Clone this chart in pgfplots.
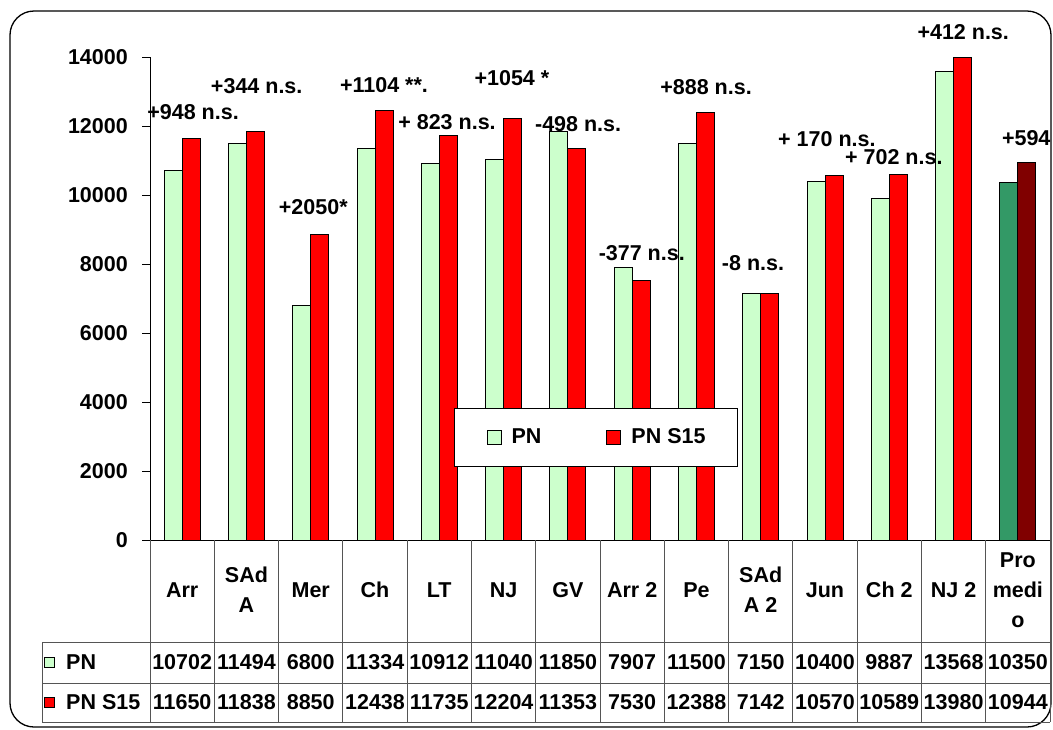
\documentclass[border=0pt]{standalone}
\usepackage{fontspec}
\setmainfont{Liberation Sans}
\usepackage{pgfplots}
\pgfplotsset{compat=1.18}
\definecolor{pngreen}{HTML}{CCFFCC}
\definecolor{pnred}{HTML}{FF0000}
\definecolor{dkgreen}{HTML}{339966}
\definecolor{dkred}{HTML}{800000}
\definecolor{tabline}{HTML}{555555}
\begin{document}
\fontsize{21.5}{30}\selectfont\bfseries
\begin{tikzpicture}[x=1pt,y=1pt]
\path[use as bounding box] (0,0) rectangle (1053,-729);
\draw[line width=1.3pt, rounded corners=24pt] (10,-11) rectangle (1051,-727);
\begin{axis}[
  at={(150pt,-540pt)}, anchor=south west,
  scale only axis, width=900pt, height=483pt,
  xmin=-0.5, xmax=13.5, ymin=0, ymax=14000,
  axis x line=bottom, axis y line=left,
  axis line style={-, line width=1pt, black},
  xtick=\empty,
  ytick={0,2000,4000,6000,8000,10000,12000,14000},
  scaled y ticks=false,
  tick align=outside, major tick length=8pt,
  ytick style={line width=1pt, black},
  yticklabel style={/pgf/number format/1000 sep={}, /pgf/number format/assume math mode=true, anchor=east, inner sep=0pt, xshift=-14pt},
  ybar, bar width=18pt,
  clip=false,
  legend style={at={(0.4956,0.2122)}, anchor=center, draw=black, line width=0.8pt,
    inner xsep=32pt, inner ysep=20pt, legend columns=2,
    nodes={inner sep=0pt},
    /tikz/every even column/.append style={column sep=65pt}},
]
\addplot[fill=pngreen, draw=black, line width=1pt, bar shift=-9pt,
  legend image code/.code={\draw[fill=pngreen,draw=black,line width=1pt] (0pt,-7pt) rectangle (14pt,7pt); \path (24pt,0pt);}]
  coordinates {(0,10702) (1,11494) (2,6800) (3,11334) (4,10912) (5,11040) (6,11850) (7,7907) (8,11500) (9,7150) (10,10400) (11,9887) (12,13568)};
\addplot[fill=pnred, draw=black, line width=1pt, bar shift=9pt,
  legend image code/.code={\draw[fill=pnred,draw=black,line width=1pt] (0pt,-7pt) rectangle (14pt,7pt); \path (24pt,0pt);}]
  coordinates {(0,11650) (1,11838) (2,8850) (3,12438) (4,11735) (5,12204) (6,11353) (7,7530) (8,12388) (9,7142) (10,10570) (11,10589) (12,13980)};
\addplot[fill=dkgreen, draw=black, line width=1pt, bar shift=-9pt, forget plot]
  coordinates {(13,10350)};
\addplot[fill=dkred, draw=black, line width=1pt, bar shift=9pt, forget plot]
  coordinates {(13,10944)};
\legend{PN, PN S15}
\node at (axis cs:0.17,12406) {+948 n.s.};
\node at (axis cs:1.16,13160) {+344 n.s.};
\node at (axis cs:2.04,9652) {+2050*};
\node at (axis cs:3.14,13189) {+1104 **.};
\node at (axis cs:4.12,12116) {+ 823 n.s.};
\node at (axis cs:5.13,13391) {+1054 *};
\node at (axis cs:6.16,12058) {-498 n.s.};
\node at (axis cs:7.15,8319) {-377 n.s.};
\node at (axis cs:8.15,13131) {+888 n.s.};
\node at (axis cs:8.88,8029) {-8 n.s.};
\node at (axis cs:10.03,11623) {+ 170 n.s.};
\node at (axis cs:11.07,11102) {+ 702 n.s.};
\node at (axis cs:12.15,14725) {+412 n.s.};
\node at (axis cs:13.13,11652) {+594};
\end{axis}
% data table
\begin{scope}[tabline, line width=1pt]
\foreach \i in {0,...,14} {
  \pgfmathsetmacro{\xx}{150+900*\i/14}
  \draw (\xx,-540) -- (\xx,-722);
}
\draw (42,-642) -- (1050,-642);
\draw (42,-683) -- (1050,-683);
\draw (42,-722) -- (1050,-722);
\draw (42,-642) -- (42,-722);
\end{scope}
\draw[fill=pngreen, draw=black, line width=0.8pt] (44,-657) rectangle (54,-667);
\draw[fill=pnred, draw=black, line width=0.8pt] (44,-697) rectangle (54,-707);
\node[anchor=west, inner sep=0pt] at (66,-662) {PN};
\node[anchor=west, inner sep=0pt] at (66,-702) {PN S15};
\foreach \n/\a/\b [count=\i from 0] in {Arr/10702/11650, {SAd\\A}/11494/11838, Mer/6800/8850, Ch/11334/12438, LT/10912/11735, NJ/11040/12204, GV/11850/11353, Arr 2/7907/7530, Pe/11500/12388, {SAd\\A 2}/7150/7142, Jun/10400/10570, Ch 2/9887/10589, NJ 2/13568/13980, {Pro\\medi\\o}/10350/10944} {
  \pgfmathsetmacro{\cx}{150+900*(\i+0.5)/14}
  \node[align=center, inner sep=0pt] at (\cx,-590) {\n};
  \node[inner sep=0pt] at (\cx,-662) {\a};
  \node[inner sep=0pt] at (\cx,-702) {\b};
}
\end{tikzpicture}
\end{document}
